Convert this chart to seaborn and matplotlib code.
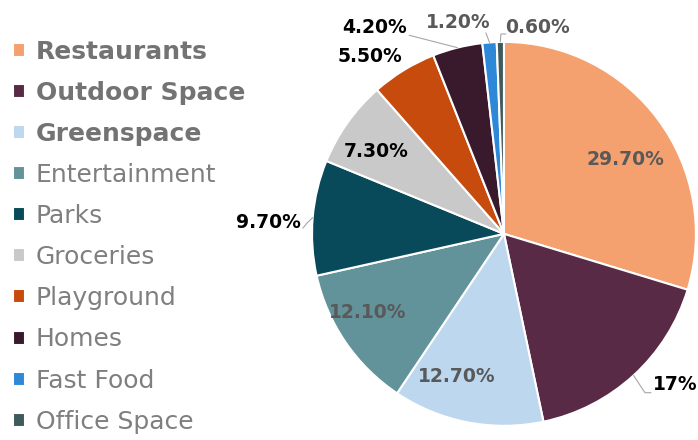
import numpy as np
import matplotlib
matplotlib.use("Agg")
import matplotlib.pyplot as plt
import seaborn as sns

# Share of amenity types
categories = ["Restaurants", "Outdoor Space", "Greenspace", "Entertainment", "Parks",
              "Groceries", "Playground", "Homes", "Fast Food", "Office Space"]
shares = [29.7, 17.0, 12.7, 12.1, 9.7, 7.3, 5.5, 4.2, 1.2, 0.6]
value_labels = ["29.70%", "17%", "12.70%", "12.10%", "9.70%",
                "7.30%", "5.50%", "4.20%", "1.20%", "0.60%"]

colors = ["#F4A06F", "#582A46", "#BDD7EE", "#62939A", "#084A59",
          "#C9C9C9", "#C84B0E", "#391A2C", "#2E88D8", "#3E5A5C"]

sns.set_theme(style="white")
plt.rcParams["font.family"] = ["DejaVu Sans"]

fig = plt.figure(figsize=(6.98, 4.40), dpi=100)
ax = fig.add_axes([0.447, 0.032, 0.550, 0.873])

wedges, _ = ax.pie(shares, colors=sns.color_palette(colors), startangle=90,
                   counterclock=False, radius=1.0,
                   wedgeprops=dict(edgecolor="white", linewidth=1.5))
ax.set_xlim(-1, 1)
ax.set_ylim(-1, 1)
ax.set_aspect("equal")
ax.axis("off")

PX = 1 / 192.0  # one pixel in pie-radius units

# label placement: radial distance, angular tweak (deg), colour,
# leader path (pixel offsets from the label centre, ending at the rim)
placement = [
    (0.743, -5.3, "#595959", None),
    (1.188, 6.1, "#000000", [(-24, 8), (-30, 8)]),
    (0.784, -7.2, "#595959", None),
    (0.819, -4.3, "#595959", None),
    (1.226, 2.0, "#000000", [(34, 6), (38, 1)]),
    (0.795, 2.6, "#000000", None),
    (1.156, 5.6, "#000000", None),
    (1.271, 18.1, "#000000", [(35, 8)]),
    (1.125, 8.0, "#595959", [(28, 10)]),
    (1.092, -10.4, "#595959", [(-32, 7), (-37, 7)]),
]

for w, lab, (r, dth, col, lead) in zip(wedges, value_labels, placement):
    mid = np.deg2rad((w.theta1 + w.theta2) / 2)
    th = mid + np.deg2rad(dth)
    x, y = r * np.cos(th), r * np.sin(th)
    ax.text(x, y, lab, ha="center", va="center", fontsize=13.5,
            fontweight="bold", color=col, clip_on=False)
    if lead:
        xs = [x + dx * PX for dx, dy in lead] + [np.cos(mid)]
        ys = [y - dy * PX for dx, dy in lead] + [np.sin(mid)]
        ax.plot(xs, ys, color="#A6A6A6", lw=0.8, clip_on=False)

leg = fig.legend(wedges, categories, loc="upper left", bbox_to_anchor=(0.0186, 0.91),
                 frameon=False, fontsize=18, handlelength=0.48, handleheight=0.48,
                 handletextpad=0.44, labelspacing=0.685, borderpad=0, borderaxespad=0,
                 labelcolor="#7F7F7F")
for i, t in enumerate(leg.get_texts()):
    if i < 3:
        t.set_fontweight("bold")
        t.set_color("#737373")

fig.savefig("out.png", dpi=100)
